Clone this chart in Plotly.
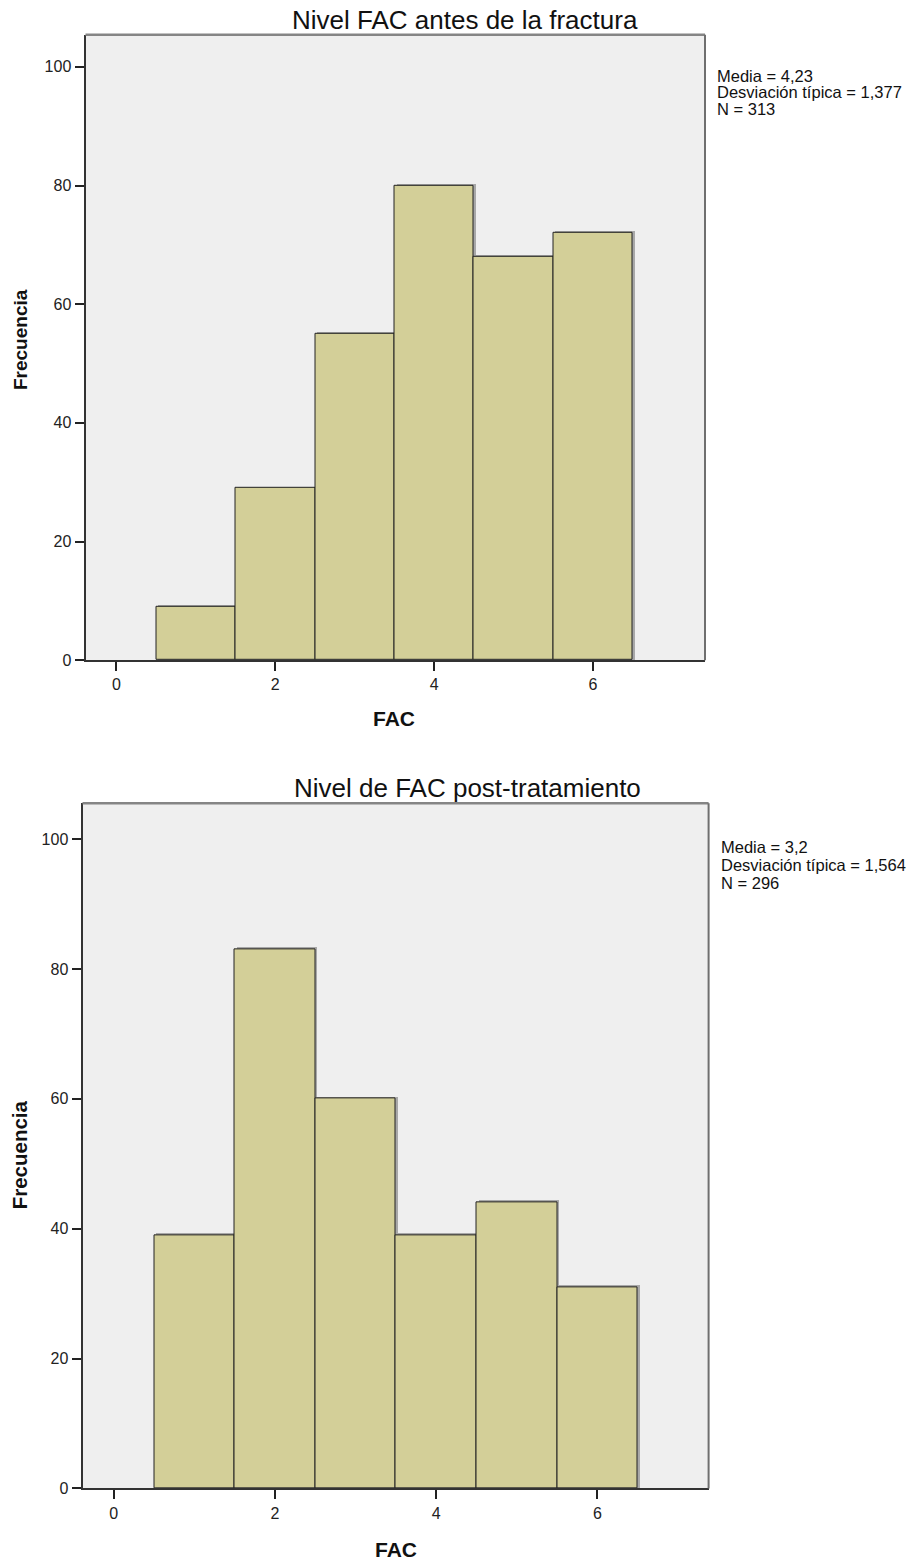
import plotly.graph_objects as go

# ---------------- data ----------------
fac_levels = [1, 2, 3, 4, 5, 6]
freq_antes = [9, 29, 55, 80, 68, 72]
freq_post = [39, 83, 60, 39, 44, 31]
titles = ["Nivel FAC antes de la fractura", "Nivel de FAC post-tratamiento"]
stats_antes = ["Media = 4,23", "Desviación típica = 1,377", "N = 313"]
stats_post = ["Media = 3,2", "Desviación típica = 1,564", "N = 296"]
x_ticks = [0, 2, 4, 6]
y_ticks = [0, 20, 40, 60, 80, 100]
x_title = "FAC"
y_title = "Frecuencia"

# ---------------- layout helpers ----------------
W, H = 906, 1568
FONT = "Liberation Sans, Arial, sans-serif"
BAR_FILL = "#d3cf98"
BG = "#efefef"


def fx(px):
    return px / W


def fy(py):
    return 1 - py / H


fig = go.Figure()

panels = [
    dict(y=freq_antes, stats=stats_antes, title=titles[0],
         xd=(85.5, 705), yd=(35, 664), xr=(-0.39, 7.41), yr=(0, 105.4),
         title_xy=(464.5, 20.5), xt_xy=(394, 723), yt_xy=(20, 342), yt_size=19,
         stat_x=715, stat_y=(76.3, 92.8, 109.3), ax=""),
    dict(y=freq_post, stats=stats_post, title=titles[1],
         xd=(82.5, 708.6), yd=(808, 1497), xr=(-0.387, 7.38), yr=(0, 105.5),
         title_xy=(467.5, 793), xt_xy=(396, 1558), yt_xy=(19, 1162), yt_size=20.5,
         stat_x=719, stat_y=(852, 870, 888), ax="2"),
]

annotations = []
shapes = []

for p in panels:
    xa = "x" + p["ax"]
    ya = "y" + p["ax"]
    # subtle drop shadow behind the bars (SPSS style)
    fig.add_trace(go.Bar(
        x=fac_levels, y=[v + 0.3 for v in p["y"]], width=1, offset=-0.48,
        marker=dict(color="#a8a8a8", line=dict(width=0)),
        xaxis=xa, yaxis=ya, showlegend=False, hoverinfo="skip",
    ))
    fig.add_trace(go.Bar(
        x=fac_levels, y=p["y"], width=1, offset=-0.5,
        marker=dict(color=BAR_FILL, line=dict(color="#222222", width=1)),
        xaxis=xa, yaxis=ya, showlegend=False, hoverinfo="x+y",
    ))
    xkey = "xaxis" + p["ax"]
    ykey = "yaxis" + p["ax"]
    fig.layout[xkey] = dict(
        domain=[fx(p["xd"][0]), fx(p["xd"][1])], range=list(p["xr"]),
        anchor=ya, tickmode="array", tickvals=x_ticks,
        ticktext=[str(t) for t in x_ticks],
        ticks="outside", ticklen=9, tickwidth=1.5, tickcolor="#222222",
        showline=True, linecolor="#333333", linewidth=2,
        showgrid=False, zeroline=False,
        tickfont=dict(family=FONT, size=16, color="#222222"),
        fixedrange=True,
    )
    fig.layout[ykey] = dict(
        domain=[fy(p["yd"][1]), fy(p["yd"][0])], range=list(p["yr"]),
        anchor=xa, tickmode="array", tickvals=y_ticks,
        ticktext=[str(t) for t in y_ticks],
        ticks="outside", ticklen=9, tickwidth=2, tickcolor="#222222",
        showline=True, linecolor="#333333", linewidth=2,
        showgrid=False, zeroline=False,
        tickfont=dict(family=FONT, size=16, color="#222222"),
        fixedrange=True,
    )
    # top & right frame (grey)
    shapes.append(dict(type="line", xref=xa + " domain", yref=ya + " domain",
                       x0=0, x1=1, y0=1, y1=1,
                       line=dict(color="#858585", width=2.5)))
    shapes.append(dict(type="line", xref=xa + " domain", yref=ya + " domain",
                       x0=1, x1=1, y0=0, y1=1,
                       line=dict(color="#6f6f6f", width=2)))
    # title
    annotations.append(dict(text=p["title"], x=fx(p["title_xy"][0]), y=fy(p["title_xy"][1]),
                            xref="paper", yref="paper", xanchor="center", yanchor="middle",
                            showarrow=False, font=dict(family=FONT, size=26, color="#111111")))
    # x title
    annotations.append(dict(text="<b>" + x_title + "</b>", x=fx(p["xt_xy"][0]), y=fy(p["xt_xy"][1]),
                            xref="paper", yref="paper", xanchor="center", yanchor="middle",
                            showarrow=False, font=dict(family=FONT, size=21, color="#111111")))
    # y title
    annotations.append(dict(text="<b>" + y_title + "</b>", x=fx(p["yt_xy"][0]), y=fy(p["yt_xy"][1]),
                            xref="paper", yref="paper", xanchor="center", yanchor="middle",
                            textangle=-90,
                            showarrow=False, font=dict(family=FONT, size=p["yt_size"], color="#111111")))
    # stats
    for line, sy in zip(p["stats"], p["stat_y"]):
        annotations.append(dict(text=line, x=fx(p["stat_x"]), y=fy(sy),
                                xref="paper", yref="paper", xanchor="left", yanchor="middle",
                                showarrow=False, font=dict(family=FONT, size=16.5, color="#111111")))

fig.update_layout(
    width=W, height=H,
    margin=dict(l=0, r=0, t=0, b=0),
    paper_bgcolor="white",
    plot_bgcolor=BG,
    bargap=0,
    barmode="overlay",
    annotations=annotations,
    shapes=shapes,
)

fig.write_html("out.html")
